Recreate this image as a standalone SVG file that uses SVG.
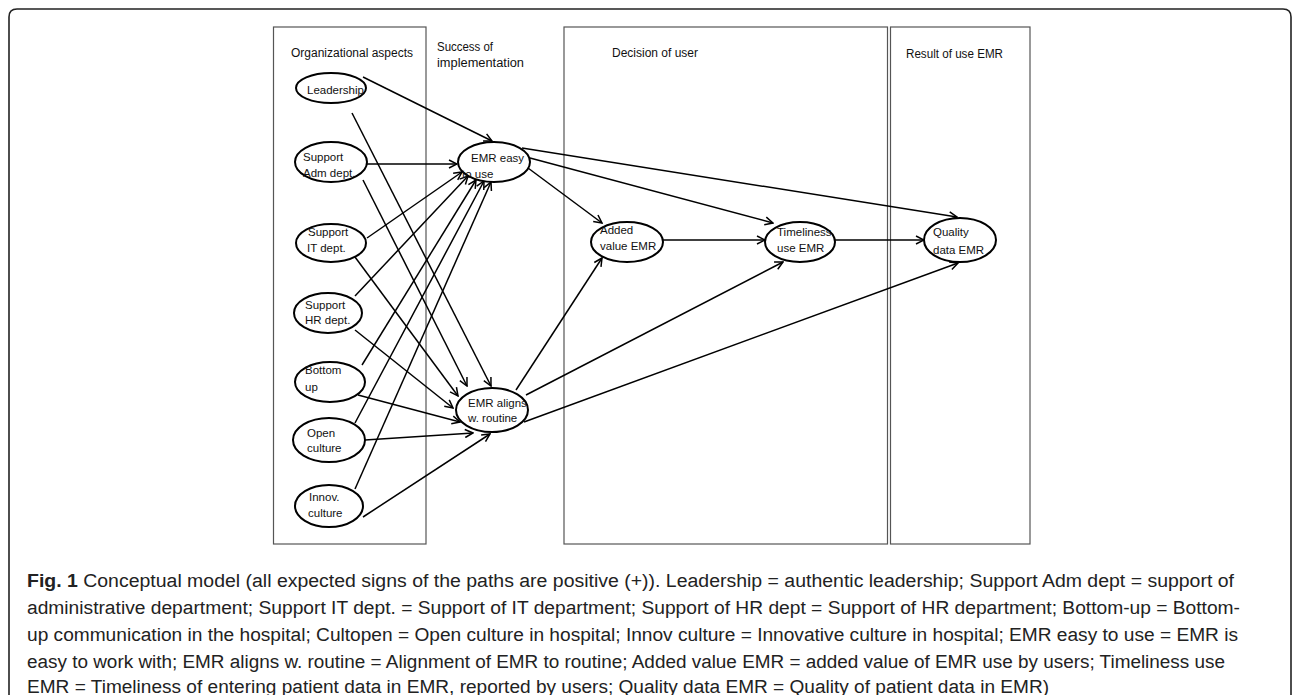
<svg xmlns="http://www.w3.org/2000/svg" width="1293" height="695" viewBox="0 0 1293 695">
<defs>
<style>
.frame{fill:none;stroke:#222;stroke-width:1.6}
.box{fill:none;stroke:#555;stroke-width:1.2}
.node{fill:#fff;stroke:#000;stroke-width:2}
.t{font-family:"Liberation Sans",Arial,sans-serif;font-size:11.5px;fill:#111}
.h{font-family:"Liberation Sans",Arial,sans-serif;font-size:12px;fill:#111}
.c{font-family:"Liberation Sans",Arial,sans-serif;font-size:18px;fill:#222}
.edge{fill:none;stroke:#000;stroke-width:1.5;marker-end:url(#ah)}
</style>
<marker id="ah" markerWidth="10" markerHeight="10" refX="9" refY="5" orient="auto" markerUnits="userSpaceOnUse">
<path d="M1,1 L9,5 L1,9" fill="none" stroke="#000" stroke-width="1.5"/>
</marker>
</defs>
<rect width="1293" height="695" fill="#fff"/>
<path class="frame" d="M9,700 V17 Q9,9 17,9 H1283 Q1291,9 1291,17 V700"/>
<g id="panels">
<rect class="box" x="273.5" y="27" width="152.5" height="517"/>
<rect class="box" x="564" y="27" width="323.5" height="517"/>
<rect class="box" x="890.5" y="27" width="139.5" height="517"/>
<text class="h" x="291" y="57" textLength="122" lengthAdjust="spacingAndGlyphs">Organizational aspects</text>
<text class="h" x="437" y="51" textLength="56" lengthAdjust="spacingAndGlyphs">Success of</text>
<text class="h" x="437" y="67" textLength="87" lengthAdjust="spacingAndGlyphs">implementation</text>
<text class="h" x="612" y="57">Decision of user</text>
<text class="h" x="906" y="58" textLength="97" lengthAdjust="spacingAndGlyphs">Result of use EMR</text>
</g>
<g id="connectors">
<line class="edge" x1="363" y1="77" x2="492" y2="141"/>
<line class="edge" x1="367" y1="164" x2="457" y2="164"/>
<line class="edge" x1="367" y1="238" x2="462" y2="172"/>
<line class="edge" x1="355" y1="296" x2="468" y2="176"/>
<line class="edge" x1="362" y1="365" x2="476" y2="180"/>
<line class="edge" x1="355" y1="423" x2="484" y2="181"/>
<line class="edge" x1="355" y1="489" x2="491" y2="182"/>
<line class="edge" x1="352" y1="113" x2="491" y2="386"/>
<line class="edge" x1="363" y1="180" x2="467" y2="386"/>
<line class="edge" x1="355" y1="257" x2="458" y2="396"/>
<line class="edge" x1="355" y1="330" x2="453" y2="408"/>
<line class="edge" x1="358" y1="395" x2="460" y2="422"/>
<line class="edge" x1="365" y1="440" x2="473" y2="433"/>
<line class="edge" x1="363" y1="517" x2="490" y2="434"/>
<line class="edge" x1="528" y1="168" x2="602" y2="223"/>
<line class="edge" x1="530" y1="158" x2="773" y2="223"/>
<line class="edge" x1="522" y1="148" x2="957" y2="217"/>
<line class="edge" x1="516" y1="390" x2="602" y2="258"/>
<line class="edge" x1="526" y1="395" x2="783" y2="262"/>
<line class="edge" x1="524" y1="422" x2="958" y2="263"/>
<line class="edge" x1="663" y1="240" x2="765" y2="240"/>
<line class="edge" x1="835" y1="240" x2="924" y2="240"/>
</g>
<g id="n-leadership">
<ellipse class="node" cx="331" cy="88" rx="35" ry="15"/>
<text class="t" x="307" y="94">Leadership</text>
</g>
<g id="n-adm">
<ellipse class="node" cx="331" cy="162" rx="36" ry="20"/>
<text class="t" x="303" y="161">Support</text>
<text class="t" x="303" y="177">Adm dept.</text>
</g>
<g id="n-it">
<ellipse class="node" cx="331" cy="243" rx="35" ry="19"/>
<text class="t" x="308" y="236">Support</text>
<text class="t" x="307" y="252">IT dept.</text>
</g>
<g id="n-hr">
<ellipse class="node" cx="328" cy="313" rx="34" ry="20"/>
<text class="t" x="305" y="309">Support</text>
<text class="t" x="305" y="324">HR dept.</text>
</g>
<g id="n-bottom">
<ellipse class="node" cx="330" cy="382" rx="35" ry="20"/>
<text class="t" x="305" y="374">Bottom</text>
<text class="t" x="305" y="391">up</text>
</g>
<g id="n-open">
<ellipse class="node" cx="329" cy="440" rx="36" ry="22"/>
<text class="t" x="307" y="437">Open</text>
<text class="t" x="307" y="452">culture</text>
</g>
<g id="n-innov">
<ellipse class="node" cx="329" cy="506" rx="34" ry="21"/>
<text class="t" x="309" y="501">Innov.</text>
<text class="t" x="308" y="517">culture</text>
</g>
<g id="n-easy">
<ellipse class="node" cx="494" cy="162" rx="36" ry="20"/>
<text class="t" x="471" y="162">EMR easy</text>
<text class="t" x="462" y="178">to use</text>
</g>
<g id="n-aligns">
<ellipse class="node" cx="492" cy="410" rx="36" ry="22"/>
<text class="t" x="468" y="407">EMR aligns</text>
<text class="t" x="468" y="422">w. routine</text>
</g>
<g id="n-added">
<ellipse class="node" cx="627" cy="242" rx="36" ry="20"/>
<text class="t" x="600" y="234">Added</text>
<text class="t" x="600" y="250">value EMR</text>
</g>
<g id="n-timeliness">
<ellipse class="node" cx="800" cy="242" rx="35" ry="20"/>
<text class="t" x="777" y="236">Timeliness</text>
<text class="t" x="777" y="252">use EMR</text>
</g>
<g id="n-quality">
<ellipse class="node" cx="960" cy="240" rx="36" ry="22"/>
<text class="t" x="933" y="236">Quality</text>
<text class="t" x="933" y="254">data EMR</text>
</g>
<g id="caption">
<text class="c" x="27" y="587" textLength="1207" lengthAdjust="spacingAndGlyphs"><tspan font-weight="bold">Fig. 1</tspan> Conceptual model (all expected signs of the paths are positive (+)). Leadership = authentic leadership; Support Adm dept = support of</text>
<text class="c" x="27" y="614" textLength="1213" lengthAdjust="spacingAndGlyphs">administrative department; Support IT dept. = Support of IT department; Support of HR dept = Support of HR department; Bottom-up = Bottom-</text>
<text class="c" x="27" y="641" textLength="1211" lengthAdjust="spacingAndGlyphs">up communication in the hospital; Cultopen = Open culture in hospital; Innov culture = Innovative culture in hospital; EMR easy to use = EMR is</text>
<text class="c" x="27" y="668" textLength="1198" lengthAdjust="spacingAndGlyphs">easy to work with; EMR aligns w. routine = Alignment of EMR to routine; Added value EMR = added value of EMR use by users; Timeliness use</text>
<text class="c" x="27" y="693" textLength="1022" lengthAdjust="spacingAndGlyphs">EMR = Timeliness of entering patient data in EMR, reported by users; Quality data EMR = Quality of patient data in EMR)</text>
</g>
</svg>
